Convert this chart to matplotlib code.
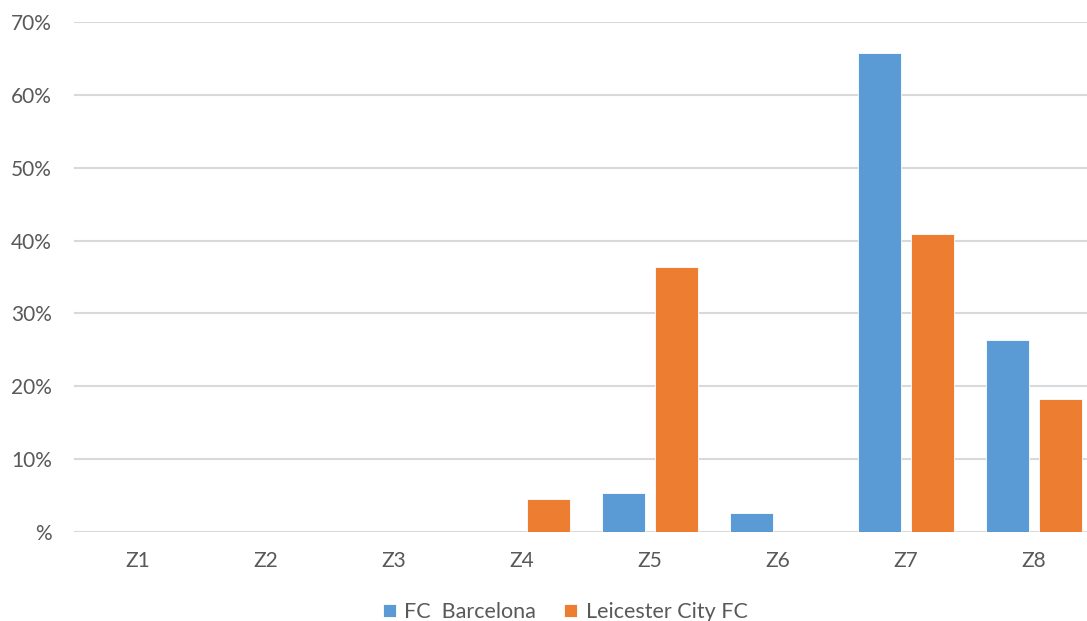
import matplotlib
matplotlib.use('Agg')

import matplotlib.pyplot as plt
from matplotlib.ticker import FuncFormatter
import numpy as np

# данные
categories = ['Z1', 'Z2', 'Z3', 'Z4', 'Z5', 'Z6', 'Z7', 'Z8']
barcelona = [0, 0, 0, 0, 5.3, 2.6, 65.8, 26.3]
leicester = [0, 0, 0, 4.5, 36.4, 0, 40.9, 18.2]
series_names = ['FC  Barcelona', 'Leicester City FC']
colors = ['#5B9BD5', '#ED7D31']

plt.rcParams['font.family'] = ['Lato', 'DejaVu Sans']
text_color = '#595959'
grid_color = '#D9D9D9'

fig = plt.figure(figsize=(10.87, 6.21), dpi=100)
ax = fig.add_axes([74 / 1087, 89 / 621, 1024 / 1087, 510 / 621])

x = np.arange(len(categories))
w = 0.335
ax.bar(x - 0.21, barcelona, w, color=colors[0], edgecolor='white', linewidth=0.6,
       label=series_names[0], zorder=3)
ax.bar(x + 0.21, leicester, w, color=colors[1], edgecolor='white', linewidth=0.6,
       label=series_names[1], zorder=3)

ax.set_xlim(-0.5, len(categories) - 0.5)
ax.set_ylim(0, 70)
ax.set_yticks(range(0, 71, 10))
ax.yaxis.set_major_formatter(FuncFormatter(lambda v, p: f'{int(v)}%' if v else '%'))
ax.set_xticks(x)
ax.set_xticklabels(categories)

ax.grid(axis='y', color=grid_color, linewidth=1.5, zorder=0)
for s in ax.spines.values():
    s.set_visible(False)
ax.tick_params(axis='both', length=0, labelsize=15, colors=text_color)
ax.tick_params(axis='y', pad=16)
ax.tick_params(axis='x', pad=14)

# легенда снизу, частично обрезана как в оригинале
leg = fig.legend(loc='center', bbox_to_anchor=(565 / 1087, 1 - 612 / 621), ncol=2,
                 frameon=False, fontsize=15.5, handlelength=0.6, handleheight=0.6,
                 handletextpad=0.4, columnspacing=1.3)
for t in leg.get_texts():
    t.set_color(text_color)

fig.savefig('out.png', dpi=100)
plt.close(fig)
